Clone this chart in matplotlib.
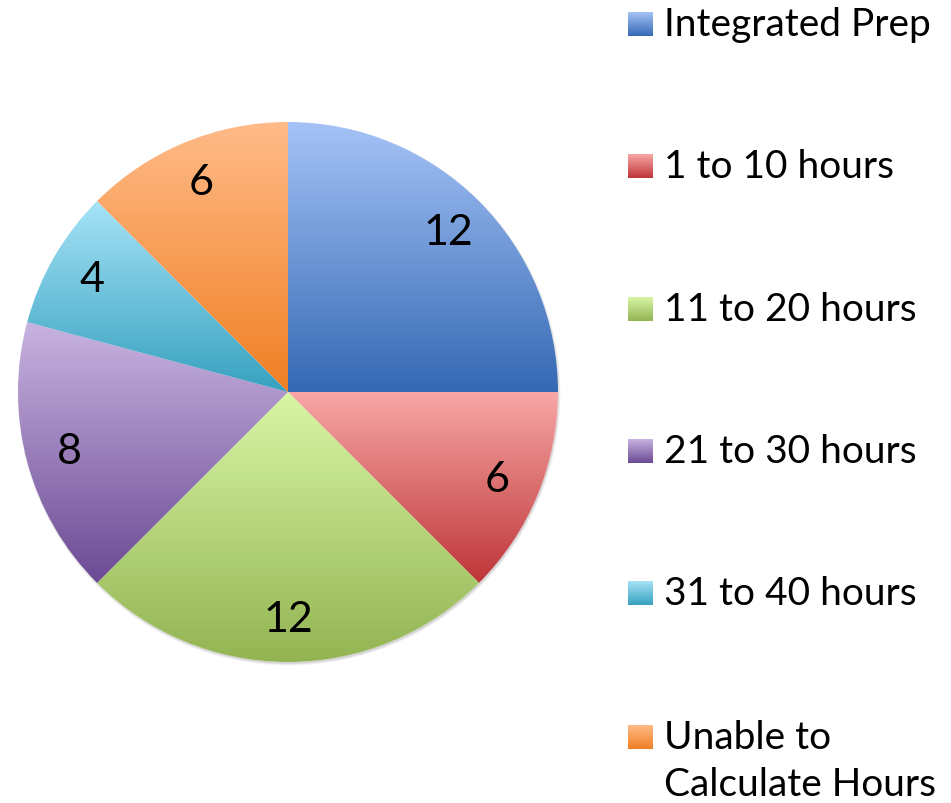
import matplotlib
matplotlib.use("Agg")
import matplotlib.pyplot as plt
import numpy as np
from matplotlib.colors import LinearSegmentedColormap
from matplotlib.patches import Circle

categories = ["Integrated Prep", "1 to 10 hours", "11 to 20 hours",
              "21 to 30 hours", "31 to 40 hours", "Unable to\nCalculate Hours"]
values = [12, 6, 12, 8, 4, 6]
top_colors = ["#A5C3F6", "#F8A7A6", "#D8F6A6", "#C8B3E0", "#A6E3F7", "#FFBB88"]
bottom_colors = ["#3569B4", "#BE3538", "#93B452", "#6B4A94", "#36A1BF", "#F07F24"]

W, H = 951, 804
fig = plt.figure(figsize=(W / 100, H / 100), dpi=100)
ax = fig.add_axes([0, 0, 1, 1])

FONT = "Lato"
total = sum(values)
cx, cy, r = 288, H - 393, 270

# soft shadow
for k in range(6):
    ax.add_patch(Circle((cx + 1, cy - 2), r + 1.5 - k * 0.5, color="black",
                        alpha=0.03, lw=0, zorder=0))

wedges, texts, autotexts = ax.pie(
    values, startangle=90, counterclock=False, center=(cx, cy), radius=r,
    autopct=lambda p: f"{round(p * total / 100):d}", pctdistance=0.84,
    textprops=dict(fontsize=31, family=FONT, color="black"),
    wedgeprops=dict(linewidth=0), frame=True)
ax.set_xlim(0, W)
ax.set_ylim(0, H)
ax.set_aspect("equal")
ax.axis("off")

grad = np.linspace(1, 0, 256).reshape(-1, 1)
for w, c0, c1 in zip(wedges, top_colors, bottom_colors):
    w.set_facecolor("white")
    verts = w.get_path().vertices
    x0, x1 = verts[:, 0].min(), verts[:, 0].max()
    y0, y1 = verts[:, 1].min(), verts[:, 1].max()
    cmap = LinearSegmentedColormap.from_list("g", [c1, c0])
    im = ax.imshow(grad, cmap=cmap, extent=(x0, x1, y0, y1), origin="upper",
                   aspect="auto", zorder=2, interpolation="bilinear")
    im.set_clip_path(w)
for t in autotexts:
    t.set_zorder(5)

# legend
ys = [25, 167, 310, 452, 594, 738]
for lab, y, c0, c1 in zip(categories, ys, top_colors, bottom_colors):
    cmap = LinearSegmentedColormap.from_list("g", [c1, c0])
    yy = H - y
    ax.imshow(grad, cmap=cmap, extent=(628, 653, yy - 12, yy + 12), origin="upper",
              aspect="auto", zorder=2, interpolation="bilinear")
    lines = lab.split("\n")
    for k, line in enumerate(lines):
        ax.text(664, yy - 47 * k, line, fontsize=28, family=FONT,
                va="center", ha="left")

ax.set_xlim(0, W)
ax.set_ylim(0, H)
fig.savefig("out.png", dpi=100)
